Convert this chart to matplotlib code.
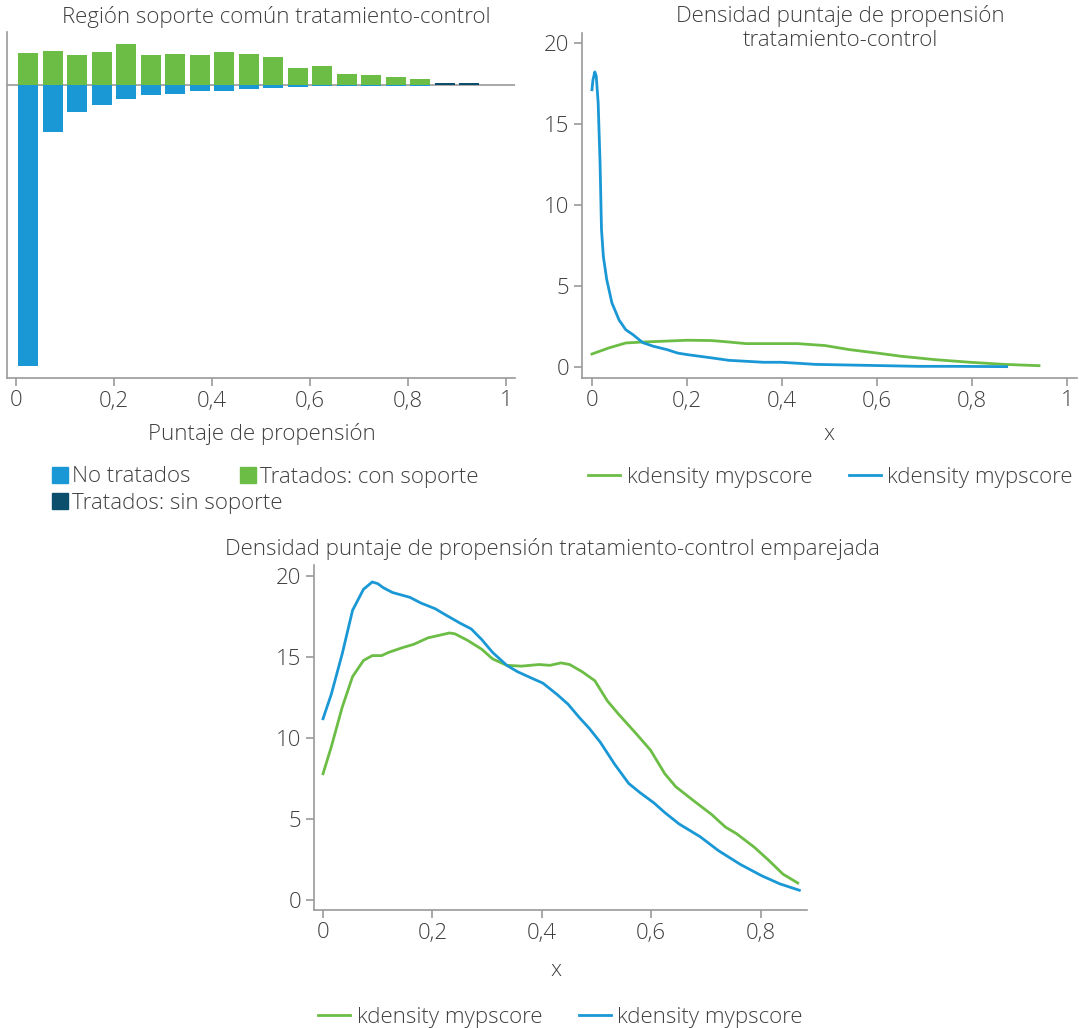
import matplotlib
matplotlib.use("Agg")
import matplotlib.pyplot as plt
from matplotlib.patches import Patch

plt.rcParams['font.family'] = ['Open Sans', 'DejaVu Sans']
plt.rcParams['font.weight'] = 'light'

# ---------------- data ----------------
bin_centers = [0.025, 0.075, 0.125, 0.175, 0.225, 0.275, 0.325, 0.375, 0.425, 0.475,
               0.525, 0.575, 0.625, 0.675, 0.725, 0.775, 0.825, 0.875, 0.925]
treated_support = [32, 34, 30, 33, 41, 30, 31, 30, 33, 31, 28, 17, 19, 11, 10, 8, 6, 0, 0]
treated_nosupport = [0, 0, 0, 0, 0, 0, 0, 0, 0, 0, 0, 0, 0, 0, 0, 0, 0, 2, 2]
untreated = [281, 47, 27, 20, 14, 10, 9, 6, 6, 4, 3, 2, 1, 0.5, 0.5, 0.5, 0.5, 0, 0]

# unmatched densities
tc_blue_x = [0, 0.002, 0.006, 0.009, 0.013, 0.017, 0.020, 0.024, 0.031, 0.042, 0.057, 0.071,
             0.086, 0.107, 0.129, 0.158, 0.18, 0.201, 0.252, 0.288, 0.325, 0.361, 0.397,
             0.433, 0.47, 0.542, 0.615, 0.687, 0.76, 0.873]
tc_blue_y = [17.1, 17.7, 18.2, 17.95, 16.3, 12.6, 8.5, 6.8, 5.4, 3.95, 2.9, 2.3,
             2.0, 1.5, 1.28, 1.07, 0.86, 0.76, 0.56, 0.41, 0.35, 0.29, 0.29,
             0.23, 0.16, 0.12, 0.08, 0.04, 0.04, 0.02]
tc_green_x = [0, 0.035, 0.071, 0.107, 0.143, 0.201, 0.252, 0.288, 0.325, 0.397, 0.433,
              0.491, 0.542, 0.6, 0.651, 0.723, 0.796, 0.868, 0.941]
tc_green_y = [0.8, 1.17, 1.48, 1.54, 1.58, 1.65, 1.63, 1.54, 1.44, 1.44, 1.44,
              1.32, 1.07, 0.86, 0.66, 0.45, 0.29, 0.16, 0.08]

# matched densities
m_blue_x = [0, 0.015, 0.035, 0.054, 0.074, 0.090, 0.100, 0.11, 0.127, 0.159, 0.179, 0.205,
            0.225, 0.251, 0.271, 0.29, 0.31, 0.336, 0.356, 0.382, 0.402, 0.428, 0.448,
            0.468, 0.487, 0.507, 0.533, 0.559, 0.579, 0.605, 0.625, 0.651, 0.69, 0.723,
            0.763, 0.802, 0.835, 0.871]
m_blue_y = [11.2, 12.7, 15.2, 17.9, 19.2, 19.65, 19.55, 19.3, 19.0, 18.7, 18.35, 18.0,
            17.6, 17.1, 16.75, 16.1, 15.3, 14.5, 14.1, 13.7, 13.4, 12.7, 12.1,
            11.3, 10.6, 9.75, 8.4, 7.2, 6.65, 6.0, 5.4, 4.7, 3.9, 3.05,
            2.2, 1.5, 1.0, 0.6]
m_green_x = [0, 0.015, 0.035, 0.054, 0.074, 0.090, 0.107, 0.12, 0.146, 0.166, 0.192, 0.212,
             0.231, 0.241, 0.264, 0.29, 0.31, 0.336, 0.363, 0.395, 0.415, 0.435, 0.451,
             0.474, 0.497, 0.52, 0.54, 0.572, 0.599, 0.625, 0.645, 0.677, 0.71, 0.736,
             0.756, 0.789, 0.815, 0.841, 0.868]
m_green_y = [7.8, 9.45, 11.9, 13.8, 14.8, 15.1, 15.1, 15.3, 15.6, 15.8, 16.2, 16.35,
             16.5, 16.45, 16.05, 15.5, 14.9, 14.5, 14.45, 14.55, 14.5, 14.65, 14.55,
             14.1, 13.55, 12.3, 11.5, 10.3, 9.25, 7.8, 7.0, 6.15, 5.3, 4.5,
             4.1, 3.25, 2.45, 1.6, 1.05]

x_ticks = [0, 0.2, 0.4, 0.6, 0.8, 1]
x_ticklabels = ["0", "0,2", "0,4", "0,6", "0,8", "1"]
x_ticks_m = [0, 0.2, 0.4, 0.6, 0.8]
x_ticklabels_m = ["0", "0,2", "0,4", "0,6", "0,8"]
y_ticks = [0, 5, 10, 15, 20]

# ---------------- style ----------------
BLUE = "#1a98d5"
GREEN = "#6cbd45"
DARK = "#0b4f6c"
TXT = "#404040"
SPINE = "#9a9a9a"
FS = 16

W, H = 1079, 1028
fig = plt.figure(figsize=(W / 100, H / 100), dpi=100)


def px_axes(x0, y0, x1, y1):
    return fig.add_axes([x0 / W, 1 - y1 / H, (x1 - x0) / W, (y1 - y0) / H])


def style(ax, yticks=True):
    for s in ["top", "right"]:
        ax.spines[s].set_visible(False)
    for s in ["left", "bottom"]:
        ax.spines[s].set_color(SPINE)
        ax.spines[s].set_linewidth(1.2)
    ax.tick_params(axis="both", colors=SPINE, labelcolor=TXT, labelsize=FS,
                   length=6, width=1.2, direction="out", pad=3)
    if not yticks:
        ax.tick_params(axis="y", left=False, labelleft=False)


def patch_legend(handle, label, x, y):
    leg = fig.legend([handle], [label], loc="center left",
                     bbox_to_anchor=(x / W, 1 - y / H), frameon=False, fontsize=FS,
                     handlelength=0.72, handleheight=0.72, handletextpad=0.2,
                     labelcolor=TXT, borderaxespad=0, borderpad=0)
    return leg


# ---- panel 1: common support bars ----
ax1 = px_axes(7, 32, 515, 378)
bw = 0.041
ax1.bar(bin_centers, treated_support, width=bw, color=GREEN)
ax1.bar(bin_centers, treated_nosupport, width=bw, color=DARK)
ax1.bar(bin_centers, [-v for v in untreated], width=bw, color=BLUE)
ax1.axhline(0, color=SPINE, lw=1.2, zorder=0)
ax1.set_xlim(-0.018, 1.018)
ax1.set_ylim(-293, 53)
ax1.set_xticks(x_ticks)
ax1.set_xticklabels(x_ticklabels)
style(ax1, yticks=False)
fig.text(276 / W, 1 - 17 / H, "Región soporte común tratamiento-control",
         ha="center", va="center", fontsize=FS, color=TXT)
fig.text(262 / W, 1 - 434 / H, "Puntaje de propensión",
         ha="center", va="center", fontsize=FS, color=TXT)
patch_legend(Patch(color=BLUE), "No tratados", 52, 477)
patch_legend(Patch(color=GREEN), "Tratados: con soporte", 240, 477)
patch_legend(Patch(color=DARK), "Tratados: sin soporte", 52, 503)

# ---- panel 2: unmatched densities ----
ax2 = px_axes(582, 33, 1077, 378)
ax2.plot(tc_green_x, tc_green_y, color=GREEN, lw=2.0, label="kdensity mypscore")
ax2.plot(tc_blue_x, tc_blue_y, color=BLUE, lw=2.0, label="kdensity mypscore")
ax2.set_xlim(-0.021, 1.021)
ax2.set_ylim(-0.68, 20.6)
ax2.set_xticks(x_ticks)
ax2.set_xticklabels(x_ticklabels)
ax2.set_yticks(y_ticks)
style(ax2)
fig.text(840 / W, 1 - 16 / H, "Densidad puntaje de propensión",
         ha="center", va="center", fontsize=FS, color=TXT)
fig.text(840 / W, 1 - 41 / H, "tratamiento-control",
         ha="center", va="center", fontsize=FS, color=TXT)
fig.text(829 / W, 1 - 434 / H, "x", ha="center", va="center", fontsize=FS, color=TXT)
fig.legend(*ax2.get_legend_handles_labels(), loc="center left",
           bbox_to_anchor=(588 / W, 1 - 477 / H), ncol=2, frameon=False, fontsize=FS,
           handlelength=1.44, handletextpad=0.3, columnspacing=1.65,
           labelcolor=TXT, borderaxespad=0, borderpad=0)

# ---- panel 3: matched densities ----
ax3 = px_axes(314, 565, 807, 910)
ax3.plot(m_green_x, m_green_y, color=GREEN, lw=2.0, label="kdensity mypscore")
ax3.plot(m_blue_x, m_blue_y, color=BLUE, lw=2.0, label="kdensity mypscore")
ax3.set_xlim(-0.0165, 0.885)
ax3.set_ylim(-0.62, 20.7)
ax3.set_xticks(x_ticks_m)
ax3.set_xticklabels(x_ticklabels_m)
ax3.set_yticks(y_ticks)
style(ax3)
fig.text(552 / W, 1 - 549 / H,
         "Densidad puntaje de propensión tratamiento-control emparejada",
         ha="center", va="center", fontsize=FS, color=TXT)
fig.text(556 / W, 1 - 970 / H, "x", ha="center", va="center", fontsize=FS, color=TXT)
fig.legend(*ax3.get_legend_handles_labels(), loc="center left",
           bbox_to_anchor=(318 / W, 1 - 1017 / H), ncol=2, frameon=False, fontsize=FS,
           handlelength=1.44, handletextpad=0.3, columnspacing=1.65,
           labelcolor=TXT, borderaxespad=0, borderpad=0)

fig.savefig("out.png", dpi=100)
